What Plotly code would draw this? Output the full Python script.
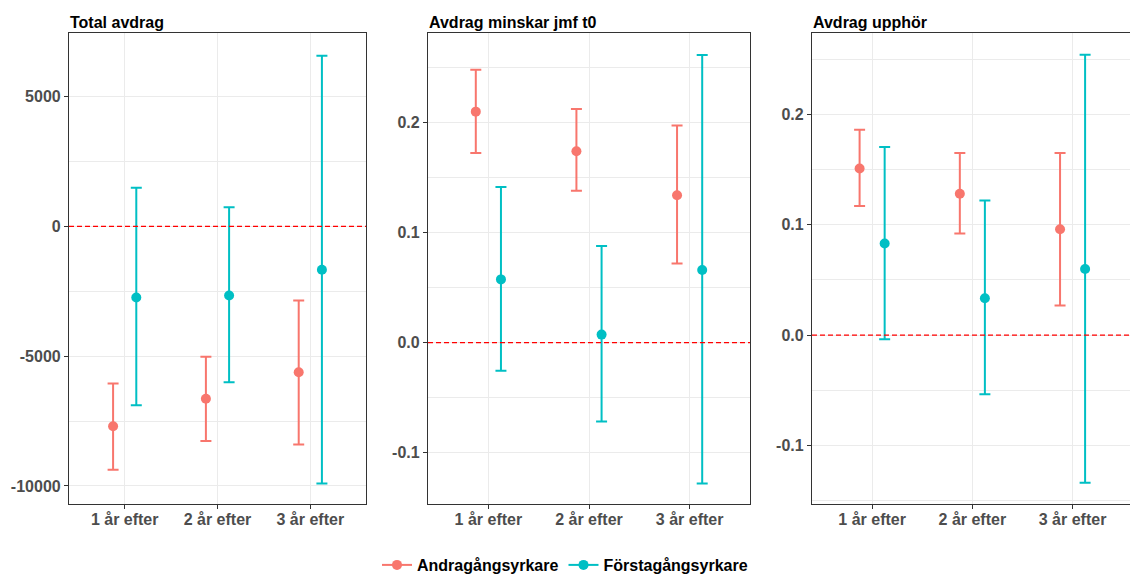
import plotly.graph_objects as go

# Categories shared by all three panels
categories = ["1 år efter", "2 år efter", "3 år efter"]
cat_pos = [1, 2, 3]

series_names = ["Andragångsyrkare", "Förstagångsyrkare"]
series_colors = ["#F8766D", "#00BFC4"]

# Panel 1: Total avdrag (estimate, lower CI, upper CI)
total_andra_est = [-7700, -6640, -5620]
total_andra_lo = [-9370, -8270, -8400]
total_andra_hi = [-6050, -5020, -2850]
total_forsta_est = [-2740, -2660, -1670]
total_forsta_lo = [-6890, -6000, -9900]
total_forsta_hi = [1490, 740, 6580]

# Panel 2: Avdrag minskar jmf t0
minskar_andra_est = [0.210, 0.174, 0.134]
minskar_andra_lo = [0.1725, 0.138, 0.072]
minskar_andra_hi = [0.248, 0.2125, 0.1975]
minskar_forsta_est = [0.0575, 0.0073, 0.066]
minskar_forsta_lo = [-0.0255, -0.0717, -0.128]
minskar_forsta_hi = [0.1416, 0.0879, 0.2615]

# Panel 3: Avdrag upphör
upphor_andra_est = [0.151, 0.128, 0.096]
upphor_andra_lo = [0.117, 0.092, 0.027]
upphor_andra_hi = [0.186, 0.165, 0.165]
upphor_forsta_est = [0.083, 0.0335, 0.060]
upphor_forsta_lo = [-0.0036, -0.0534, -0.1336]
upphor_forsta_hi = [0.1705, 0.122, 0.254]

panel_titles = ["Total avdrag", "Avdrag minskar jmf t0", "Avdrag upphör"]

# y tick labels per panel
total_ticks = [-10000, -5000, 0, 5000]
total_ticklabels = ["-10000", "-5000", "0", "5000"]
total_minor = [-7500, -2500, 2500]
prop_ticks = [-0.1, 0.0, 0.1, 0.2]
prop_ticklabels = ["-0.1", "0.0", "0.1", "0.2"]
prop_minor = [-0.15, -0.05, 0.05, 0.15, 0.25]

panels = [
    dict(title=panel_titles[0],
         data=[(total_andra_est, total_andra_lo, total_andra_hi),
               (total_forsta_est, total_forsta_lo, total_forsta_hi)],
         ticks=total_ticks, ticklabels=total_ticklabels, minor=total_minor,
         yrange=[-10694, 7454], xdomain=[69 / 1130, 366 / 1130], xrange=[0.4, 3.6]),
    dict(title=panel_titles[1],
         data=[(minskar_andra_est, minskar_andra_lo, minskar_andra_hi),
               (minskar_forsta_est, minskar_forsta_lo, minskar_forsta_hi)],
         ticks=prop_ticks, ticklabels=prop_ticklabels, minor=prop_minor,
         yrange=[-0.1467, 0.2815], xdomain=[428 / 1130, 750 / 1130], xrange=[0.4, 3.6]),
    dict(title=panel_titles[2],
         data=[(upphor_andra_est, upphor_andra_lo, upphor_andra_hi),
               (upphor_forsta_est, upphor_forsta_lo, upphor_forsta_hi)],
         ticks=prop_ticks, ticklabels=prop_ticklabels, minor=prop_minor,
         yrange=[-0.1528, 0.2736], xdomain=[812 / 1130, 1.0], xrange=[0.4, 3.573]),
]

FONT = "Liberation Sans, Arial, sans-serif"
DODGE = 0.125
GRID = "#EBEBEB"
FRAME = "#333333"
TICKTEXT = "#4D4D4D"
YDOMAIN = [1 - 504 / 574, 1 - 33 / 574]

fig = go.Figure()
layout = {}
shapes = []
annotations = []

for i, p in enumerate(panels):
    n = "" if i == 0 else str(i + 1)
    xa, ya = "x" + n, "y" + n
    for s, (est, lo, hi) in enumerate(p["data"]):
        offset = -DODGE if s == 0 else DODGE
        fig.add_trace(go.Scatter(
            x=[c + offset for c in cat_pos], y=est,
            mode="markers",
            marker=dict(color=series_colors[s], size=10),
            error_y=dict(type="data", symmetric=False,
                         array=[h - e for h, e in zip(hi, est)],
                         arrayminus=[e - l for e, l in zip(est, lo)],
                         color=series_colors[s], thickness=2, width=5.5),
            name=series_names[s], showlegend=False,
            xaxis=xa, yaxis=ya,
        ))

    layout["xaxis" + n] = dict(
        domain=p["xdomain"], range=p["xrange"], anchor=ya,
        tickmode="array", tickvals=cat_pos, ticktext=categories,
        showgrid=True, gridcolor=GRID, gridwidth=1.3, zeroline=False,
        showline=True, linecolor=FRAME, linewidth=1.2, mirror=True,
        ticks="outside", ticklen=4, tickwidth=1, tickcolor=FRAME,
        ticklabelstandoff=-3,
        tickfont=dict(family=FONT, size=16, color=TICKTEXT, weight="bold"),
    )
    layout["yaxis" + n] = dict(
        domain=YDOMAIN, range=p["yrange"], anchor=xa,
        tickmode="array", tickvals=p["ticks"], ticktext=p["ticklabels"],
        showgrid=True, gridcolor=GRID, gridwidth=1.3, zeroline=False,
        minor=dict(tickmode="array", tickvals=p["minor"], showgrid=True,
                   gridcolor=GRID, gridwidth=1, ticks=""),
        showline=True, linecolor=FRAME, linewidth=1.2, mirror=(i < 2),
        ticks="outside", ticklen=4, tickwidth=1, tickcolor=FRAME,
        tickfont=dict(family=FONT, size=16, color=TICKTEXT, weight="bold"),
    )

    # reference line at zero
    shapes.append(dict(type="line", xref=xa + " domain", yref=ya,
                       x0=0, x1=1, y0=0, y1=0,
                       line=dict(color="#FF0000", width=1.3, dash="5px,3px"),
                       layer="above"))

    annotations.append(dict(
        text=p["title"], xref="paper", yref="paper",
        x=p["xdomain"][0] - 1 / 1130, y=1 - 33 / 574, xanchor="left", yanchor="bottom",
        showarrow=False,
        font=dict(family=FONT, size=16, color="#000000", weight="bold"),
    ))

# legend entries (point with horizontal bar)
for s in range(2):
    fig.add_trace(go.Scatter(
        x=[None], y=[None], mode="lines+markers",
        marker=dict(color=series_colors[s], size=10),
        line=dict(color=series_colors[s], width=2),
        name=series_names[s], showlegend=True,
    ))

fig.update_layout(
    width=1130, height=574,
    margin=dict(l=0, r=0, t=0, b=0, autoexpand=False),
    paper_bgcolor="white", plot_bgcolor="white",
    shapes=shapes, annotations=annotations,
    legend=dict(orientation="h", x=0.5, xanchor="center",
                y=1 - 565 / 574, yanchor="middle",
                font=dict(family=FONT, size=16, color="#000000", weight="bold"),
                itemwidth=30, tracegroupgap=0, bgcolor="rgba(0,0,0,0)"),
    **layout,
)

fig.write_html("out.html")
